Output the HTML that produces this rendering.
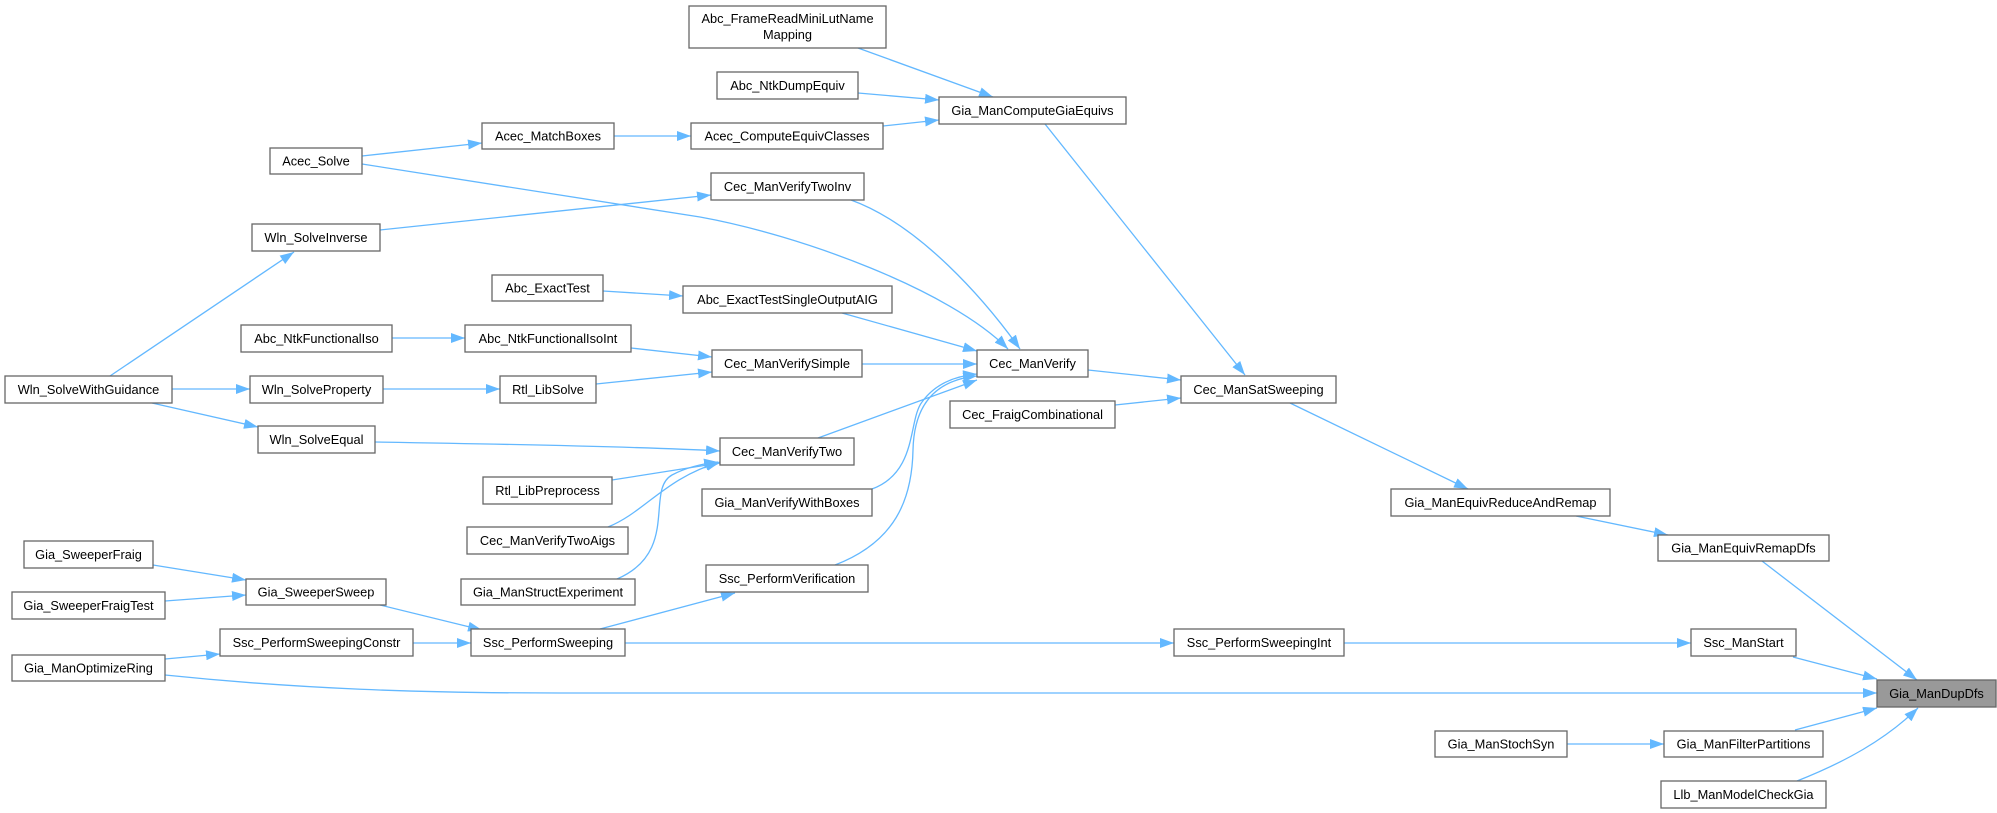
<!DOCTYPE html>
<html><head><meta charset="utf-8"><style>
html,body{margin:0;padding:0;background:#fff;}
svg{display:block;}
text{font-family:"Liberation Sans",Arial,sans-serif;font-size:12.8px;fill:#000;text-anchor:middle;}
.n{fill:#fff;stroke:#666;stroke-width:1.3;}
.e{fill:none;stroke:#63b8ff;stroke-width:1.3;}
</style></head><body>
<svg width="1997" height="813" viewBox="0 0 1997 813" xmlns="http://www.w3.org/2000/svg">
<defs>
<marker id="a" markerUnits="userSpaceOnUse" viewBox="0 0 14 10" refX="14" refY="5" markerWidth="14" markerHeight="10" orient="auto">
<path d="M0,0 L14,5 L0,10 z" fill="#63b8ff"/>
</marker>
</defs>
<g marker-end="url(#a)">
<path class="e" d="M858,48 L993,97"/>
<path class="e" d="M858,93 L939,100"/>
<path class="e" d="M883,126 L939,120"/>
<path class="e" d="M614,136 L691,136"/>
<path class="e" d="M362,156 L482,143"/>
<path class="e" d="M362,164 L700,217 C800,235 950,290 1008,349"/>
<path class="e" d="M380,230 L711,195"/>
<path class="e" d="M851,200 C920,225 985,300 1020,349"/>
<path class="e" d="M110,376 L294,252"/>
<path class="e" d="M172,389 L250,389"/>
<path class="e" d="M152,403 L258,427"/>
<path class="e" d="M383,389 L500,389"/>
<path class="e" d="M596,384 L712,372"/>
<path class="e" d="M392,338 L465,338"/>
<path class="e" d="M631,348 L712,357"/>
<path class="e" d="M603,291 L683,296"/>
<path class="e" d="M842,313 L977,351"/>
<path class="e" d="M862,364 L977,364"/>
<path class="e" d="M375,442 C500,444 650,447 720,451"/>
<path class="e" d="M612,480 L720,463"/>
<path class="e" d="M608,527 C645,512 665,478 720,462"/>
<path class="e" d="M617,579 C680,552 645,490 672,475 C685,468 700,464 718,462"/>
<path class="e" d="M818,438 L977,380"/>
<path class="e" d="M872,489 C918,472 908,420 922,402 C935,384 955,376 977,374"/>
<path class="e" d="M835,565 C895,542 912,500 913,450 C914,405 935,380 977,376"/>
<path class="e" d="M1088,370 L1181,380"/>
<path class="e" d="M1115,405 L1181,398"/>
<path class="e" d="M1045,124 L1245,375"/>
<path class="e" d="M1290,403 L1468,489"/>
<path class="e" d="M1576,516 L1668,535"/>
<path class="e" d="M1762,561 L1917,680"/>
<path class="e" d="M153,565 L246,580"/>
<path class="e" d="M165,601 L246,595"/>
<path class="e" d="M380,605 L482,630"/>
<path class="e" d="M413,643 L471,643"/>
<path class="e" d="M165,659 L220,654"/>
<path class="e" d="M165,675 C300,689 420,693 560,693 L1877,693"/>
<path class="e" d="M600,629 L735,593"/>
<path class="e" d="M625,643 L1174,643"/>
<path class="e" d="M1344,643 L1691,643"/>
<path class="e" d="M1793,657 L1877,679"/>
<path class="e" d="M1565,744 L1664,744"/>
<path class="e" d="M1795,730 L1877,708"/>
<path class="e" d="M1797,781 C1845,762 1885,740 1918,708"/>
</g>

<rect class="n" x="689" y="6" width="197" height="42"/>
<text x="787.5" y="23">Abc_FrameReadMiniLutName</text>
<text x="787.5" y="39">Mapping</text>

<rect class="n" x="717" y="72" width="141" height="27"/><text x="787.5" y="90">Abc_NtkDumpEquiv</text>
<rect class="n" x="939" y="97" width="187" height="27"/><text x="1032.5" y="115">Gia_ManComputeGiaEquivs</text>
<rect class="n" x="691" y="123" width="192" height="26"/><text x="787" y="140.5">Acec_ComputeEquivClasses</text>
<rect class="n" x="482" y="123" width="132" height="26"/><text x="548" y="140.5">Acec_MatchBoxes</text>
<rect class="n" x="270" y="148" width="92" height="26"/><text x="316" y="165.5">Acec_Solve</text>
<rect class="n" x="711" y="173" width="153" height="27"/><text x="787.5" y="191">Cec_ManVerifyTwoInv</text>
<rect class="n" x="252" y="224" width="128" height="27"/><text x="316" y="242">Wln_SolveInverse</text>
<rect class="n" x="492" y="275" width="111" height="26"/><text x="547.5" y="292.5">Abc_ExactTest</text>
<rect class="n" x="683" y="286" width="209" height="27"/><text x="787.5" y="304">Abc_ExactTestSingleOutputAIG</text>
<rect class="n" x="241" y="325" width="151" height="27"/><text x="316.5" y="343">Abc_NtkFunctionalIso</text>
<rect class="n" x="465" y="325" width="166" height="27"/><text x="548" y="343">Abc_NtkFunctionalIsoInt</text>
<rect class="n" x="5" y="376" width="167" height="27"/><text x="88.5" y="394">Wln_SolveWithGuidance</text>
<rect class="n" x="250" y="376" width="133" height="27"/><text x="316.5" y="394">Wln_SolveProperty</text>
<rect class="n" x="500" y="376" width="96" height="27"/><text x="548" y="394">Rtl_LibSolve</text>
<rect class="n" x="712" y="350" width="150" height="27"/><text x="787" y="368">Cec_ManVerifySimple</text>
<rect class="n" x="977" y="350" width="111" height="27"/><text x="1032.5" y="368">Cec_ManVerify</text>
<rect class="n" x="1181" y="376" width="155" height="27"/><text x="1258.5" y="394">Cec_ManSatSweeping</text>
<rect class="n" x="950" y="401" width="165" height="27"/><text x="1032.5" y="419">Cec_FraigCombinational</text>
<rect class="n" x="258" y="426" width="117" height="27"/><text x="316.5" y="444">Wln_SolveEqual</text>
<rect class="n" x="720" y="438" width="134" height="27"/><text x="787" y="456">Cec_ManVerifyTwo</text>
<rect class="n" x="483" y="477" width="129" height="27"/><text x="547.5" y="495">Rtl_LibPreprocess</text>
<rect class="n" x="702" y="489" width="170" height="27"/><text x="787" y="507">Gia_ManVerifyWithBoxes</text>
<rect class="n" x="1391" y="489" width="219" height="27"/><text x="1500.5" y="507">Gia_ManEquivReduceAndRemap</text>
<rect class="n" x="467" y="527" width="161" height="27"/><text x="547.5" y="545">Cec_ManVerifyTwoAigs</text>
<rect class="n" x="1658" y="535" width="171" height="26"/><text x="1743.5" y="552.5">Gia_ManEquivRemapDfs</text>
<rect class="n" x="24" y="541" width="129" height="27"/><text x="88.5" y="559">Gia_SweeperFraig</text>
<rect class="n" x="706" y="565" width="162" height="27"/><text x="787" y="583">Ssc_PerformVerification</text>
<rect class="n" x="246" y="579" width="140" height="26"/><text x="316" y="596.5">Gia_SweeperSweep</text>
<rect class="n" x="461" y="579" width="174" height="26"/><text x="548" y="596.5">Gia_ManStructExperiment</text>
<rect class="n" x="12" y="592" width="153" height="27"/><text x="88.5" y="610">Gia_SweeperFraigTest</text>
<rect class="n" x="220" y="629" width="193" height="27"/><text x="316.5" y="647">Ssc_PerformSweepingConstr</text>
<rect class="n" x="471" y="629" width="154" height="27"/><text x="548" y="647">Ssc_PerformSweeping</text>
<rect class="n" x="1174" y="629" width="170" height="27"/><text x="1259" y="647">Ssc_PerformSweepingInt</text>
<rect class="n" x="1691" y="629" width="105" height="27"/><text x="1743.5" y="647">Ssc_ManStart</text>
<rect class="n" x="12" y="655" width="153" height="26"/><text x="88.5" y="672.5">Gia_ManOptimizeRing</text>
<rect x="1877" y="680" width="119" height="27" fill="#999" stroke="#666" stroke-width="1.3"/><text x="1936.5" y="698">Gia_ManDupDfs</text>
<rect class="n" x="1435" y="731" width="132" height="26"/><text x="1501" y="748.5">Gia_ManStochSyn</text>
<rect class="n" x="1664" y="731" width="159" height="26"/><text x="1743.5" y="748.5">Gia_ManFilterPartitions</text>
<rect class="n" x="1661" y="781" width="165" height="27"/><text x="1743.5" y="799">Llb_ManModelCheckGia</text>
</svg>
</body></html>
